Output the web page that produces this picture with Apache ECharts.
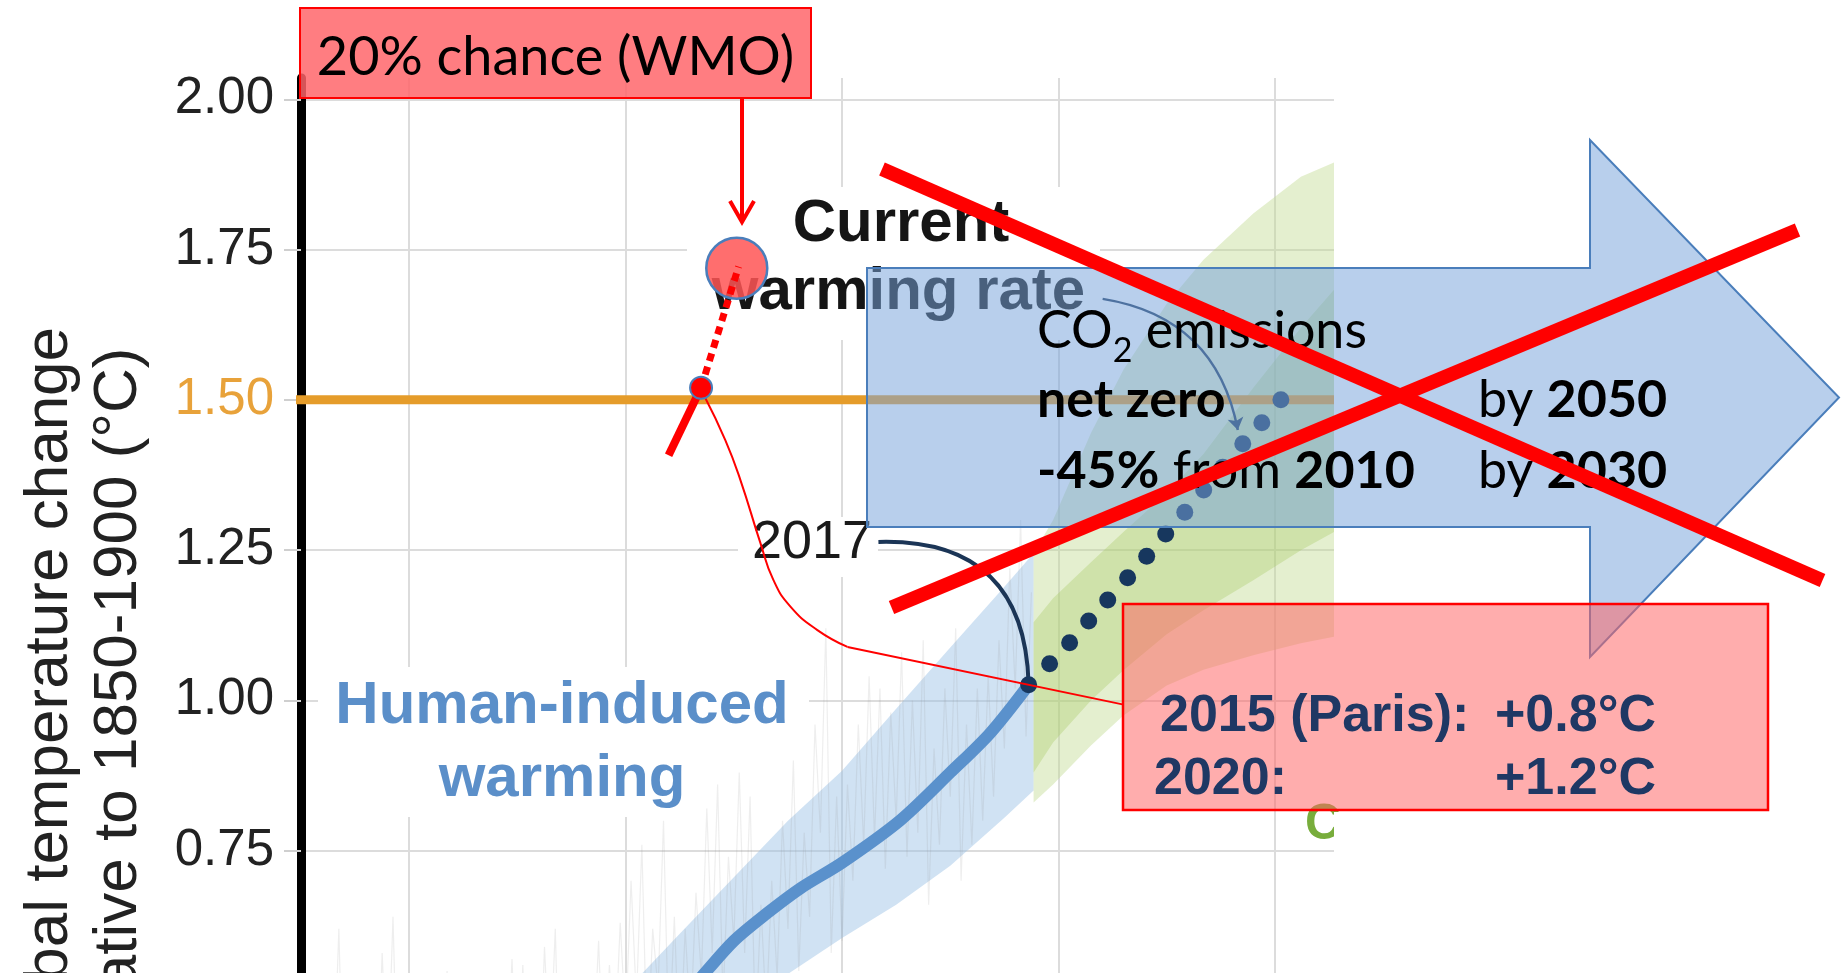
<!DOCTYPE html>
<html>
<head>
<meta charset="utf-8">
<script src="https://cdn.jsdelivr.net/npm/echarts@6/dist/echarts.min.js"></script>
<style>
html,body{margin:0;padding:0;background:#ffffff;}
#chart{width:1847px;height:973px;}
</style>
</head>
<body>
<div id="chart"></div>
<script>
// ---------------- DATA ----------------
const limitValue = 1.5;

// Human-induced warming (central estimate), year -> °C
const humanYears  = [1980, 1985, 1987, 1990, 1993, 1996.2, 2000, 2005.4, 2010, 2013.7, 2017.24];
const humanValues = [0.42, 0.50, 0.540, 0.600, 0.645, 0.688, 0.730, 0.801, 0.880, 0.946, 1.026];

// Likely range of human-induced warming
const humanBandYears = [1975, 1980, 1985, 1990, 1995, 2000, 2005, 2010, 2015, 2017.7];
const humanBandUpper = [0.42, 0.517, 0.612, 0.706, 0.800, 0.883, 0.986, 1.088, 1.189, 1.245];
const humanBandLower = [0.20, 0.30, 0.37, 0.45, 0.545, 0.605, 0.660, 0.725, 0.805, 0.850];

// Projected pathway plume (outer and inner ranges)
const pathwayYears      = [2017.7, 2019.5, 2023, 2026, 2030, 2033.4, 2038, 2042.4, 2045.46];
const pathwayOuterUpper = [1.245, 1.30, 1.445, 1.55, 1.66, 1.733, 1.81, 1.871, 1.895];
const pathwayOuterLower = [0.83, 0.86, 0.925, 0.975, 1.025, 1.051, 1.075, 1.095, 1.106];
const pathwayInnerUpper = [1.13, 1.17, 1.23, 1.28, 1.345, 1.41, 1.52, 1.62, 1.683];
const pathwayInnerLower = [0.88, 0.93, 1.00, 1.05, 1.11, 1.15, 1.20, 1.25, 1.28];

// Current warming rate (dotted projection)
const rateYears  = [2017.24, 2019.18, 2021.03, 2022.79, 2024.55, 2026.39, 2028.15, 2029.91, 2031.67, 2033.42, 2035.18, 2037.03, 2038.79, 2040.55];
const rateValues = [1.026, 1.061, 1.096, 1.132, 1.167, 1.204, 1.240, 1.277, 1.313, 1.350, 1.388, 1.427, 1.462, 1.500];

// Observed temperature (faint background trace), half-year steps from 1950
const observedStart = 1950;
const observedStep = 0.5;
const observedValues = [
  0.22,0.35, 0.28,0.44, 0.30,0.47, 0.36,0.62, 0.25,0.40, 0.20,0.38, 0.18,0.33, 0.32,0.58, 0.36,0.64, 0.30,0.52,
  0.28,0.45, 0.33,0.50, 0.30,0.48, 0.32,0.55, 0.18,0.36, 0.22,0.40, 0.28,0.47, 0.30,0.50, 0.26,0.46, 0.36,0.57,
  0.33,0.56, 0.25,0.45, 0.32,0.59, 0.40,0.62, 0.27,0.44, 0.30,0.49, 0.24,0.43, 0.40,0.60, 0.36,0.56, 0.42,0.63,
  0.46,0.70, 0.50,0.76, 0.40,0.62, 0.52,0.80, 0.42,0.64, 0.40,0.62, 0.46,0.68, 0.54,0.82, 0.58,0.86, 0.50,0.74,
  0.60,0.88, 0.58,0.84, 0.44,0.66, 0.48,0.70, 0.54,0.80, 0.62,0.90, 0.55,0.78, 0.64,0.96, 0.78,1.12, 0.58,0.84,
  0.60,0.86, 0.70,0.96, 0.76,1.04, 0.77,1.02, 0.72,0.98, 0.80,1.08, 0.74,1.00, 0.78,1.10, 0.66,0.92, 0.76,1.02,
  0.84,1.12, 0.70,0.96, 0.76,1.02, 0.80,1.04, 0.84,1.10, 0.92,1.22, 1.02,1.30, 0.94,1.18
];

// Annotation anchors in data space [year, °C]
const arc2017       = [[2003.36, 1.2636], [2017.24, 1.027]];
const rateArrow     = [[2024.08, 1.668], [2036.57, 1.450]];
const chancePoint   = [1990.27, 1.719];
const crossingPoint = [1986.97, 1.520];
const tangentSolid  = [[1983.97, 1.408], [1986.97, 1.520]];
const tangentDotted = [[1986.97, 1.520], [1990.44, 1.7216]];
const leaderCurve   = [[1987.36, 1.503], [1989.21, 1.433], [1990.60, 1.367], [1992.45, 1.262], [1993.65, 1.2005], [1995.23, 1.156], [1997.72, 1.117], [2000.50, 1.089]];
const leaderStraight= [[2000.50, 1.089], [2026.02, 0.993]];
const limitLineX    = [1948.4, 2045.46];

// Texts
const yTitleLines = ['Global temperature change', 'relative to 1850-1900 (°C)'];
const humanLabel = ['Human-induced', 'warming'];
const rateLabel = ['Current', 'warming rate'];
const label2017 = '2017';
const wmoLabel = '20% chance (WMO)';
const parisLines = [['2015 (Paris):', '+0.8°C'], ['2020:', '+1.2°C']];

// ---------------- helpers ----------------
const LS = '"Liberation Sans", Arial, sans-serif';
const LATO = 'Lato, "Open Sans", sans-serif';
const K_LS = 0.3465, K_LATO = 0.33;
const mctx = document.createElement('canvas').getContext('2d');
function tw(text, font) { mctx.font = font; return mctx.measureText(text).width; }
function txt(x, baseline, text, font, size, k, fill, align, z) {
  return { type: 'text', x: x, y: baseline - k * size, z: z, silent: true,
    style: { text: text, font: font, fill: fill, align: align || 'left', verticalAlign: 'middle' } };
}
function run(x, baseline, parts, size, family, k, fill, z) {
  const out = []; let cx = x;
  parts.forEach(p => {
    const font = (p.b ? 'bold ' : '') + size + 'px ' + family;
    out.push(txt(cx, baseline, p.t, font, size, k, fill, 'left', z));
    cx += tw(p.t, font);
  });
  return out;
}
function bandSeries(years, upper, lower, fill) {
  return {
    type: 'custom', silent: true, z: 2,
    data: years.map((y, i) => [y, upper[i]]),
    renderItem: function (params, api) {
      if (params.dataIndex !== 0) return null;
      const pts = [];
      for (let i = 0; i < years.length; i++) pts.push(api.coord([years[i], upper[i]]));
      for (let i = years.length - 1; i >= 0; i--) pts.push(api.coord([years[i], lower[i]]));
      return { type: 'polygon', shape: { points: pts }, style: { fill: fill } };
    }
  };
}

// ---------------- graphic overlay ----------------
const g = [];
// y axis title (rotated, partly cut by the bottom edge as in the source)
g.push({ type: 'text', x: 50, y: 702.6, rotation: Math.PI / 2, z: 1, silent: true,
  style: { text: yTitleLines[0], font: '62px ' + LS, fill: '#222', align: 'center', verticalAlign: 'middle' } });
g.push({ type: 'text', x: 119, y: 702.8, rotation: Math.PI / 2, z: 1, silent: true,
  style: { text: yTitleLines[1], font: '62px ' + LS, fill: '#222', align: 'center', verticalAlign: 'middle' } });

// in-plot labels with white backgrounds (original figure)
g.push({ type: 'rect', z: 1, silent: true, shape: { x: 318, y: 667, width: 491, height: 150 }, style: { fill: '#fff' } });
g.push(txt(562, 727, humanLabel[0], 'bold 60px ' + LS, 60, K_LS, '#5B8FC9', 'center', 1.5));
g.push(txt(562, 800, humanLabel[1], 'bold 60px ' + LS, 60, K_LS, '#5B8FC9', 'center', 1.5));

g.push({ type: 'rect', z: 1, silent: true, shape: { x: 687, y: 187, width: 413, height: 153 }, style: { fill: '#fff' } });
g.push(txt(901, 245, rateLabel[0], 'bold 60px ' + LS, 60, K_LS, '#151515', 'center', 1.5));
g.push(txt(898.5, 313, rateLabel[1], 'bold 60px ' + LS, 60, K_LS, '#151515', 'center', 1.5));

g.push({ type: 'rect', z: 1, silent: true, shape: { x: 738, y: 517, width: 140, height: 60 }, style: { fill: '#fff' } });
g.push(txt(752, 562, label2017, '54px ' + LS, 54, K_LS, '#1a1a1a', 'left', 1.5));

// cut-off green letter of the original figure
g.push(txt(1305, 843, 'C', 'bold 50px ' + LS, 50, K_LS, '#78AD3C', 'left', 4));
g.push({ type: 'rect', z: 5, silent: true, shape: { x: 1334, y: 812, width: 90, height: 90 }, style: { fill: '#fff' } });

// big blue block arrow
g.push({ type: 'polygon', z: 10, silent: true,
  shape: { points: [[867, 268], [1590, 268], [1590, 140], [1839, 397.5], [1590, 657], [1590, 527], [867, 527]] },
  style: { fill: 'rgba(120,165,220,0.53)', stroke: '#4A7EBB', lineWidth: 2 } });
// arrow texts
(function () {
  const f = '52px ' + LATO;
  const wCO = tw('CO', f);
  g.push(txt(1037, 348, 'CO', f, 52, K_LATO, '#000', 'left', 11));
  g.push(txt(1037 + wCO, 362, '2', '34px ' + LATO, 34, K_LATO, '#000', 'left', 11));
  const w2 = tw('2', '34px ' + LATO);
  g.push(txt(1037 + wCO + w2, 348, ' emissions', f, 52, K_LATO, '#000', 'left', 11));
})();
run(1037, 417, [{ t: 'net zero', b: true }], 52, LATO, K_LATO, '#000', 11).forEach(e => g.push(e));
run(1478, 417, [{ t: 'by ' }, { t: '2050', b: true }], 52, LATO, K_LATO, '#000', 11).forEach(e => g.push(e));
run(1037, 488, [{ t: '-45%', b: true }, { t: ' from ' }, { t: '2010', b: true }], 52, LATO, K_LATO, '#000', 11).forEach(e => g.push(e));
run(1478, 488, [{ t: 'by ' }, { t: '2030', b: true }], 52, LATO, K_LATO, '#000', 11).forEach(e => g.push(e));

// pink Paris box
g.push({ type: 'rect', z: 12, silent: true, shape: { x: 1123, y: 604, width: 645, height: 206 },
  style: { fill: 'rgba(255,100,100,0.53)', stroke: '#FF0000', lineWidth: 2.5 } });
g.push(txt(1160, 735, parisLines[0][0], 'bold 52px ' + LS, 52, K_LS, '#1F3864', 'left', 13));
g.push(txt(1495, 735, parisLines[0][1], 'bold 52px ' + LS, 52, K_LS, '#1F3864', 'left', 13));
g.push(txt(1154, 798, parisLines[1][0], 'bold 52px ' + LS, 52, K_LS, '#1F3864', 'left', 13));
g.push(txt(1495, 798, parisLines[1][1], 'bold 52px ' + LS, 52, K_LS, '#1F3864', 'left', 13));

// top WMO box + arrow
g.push({ type: 'rect', z: 12, silent: true, shape: { x: 300, y: 8, width: 511, height: 90 },
  style: { fill: 'rgba(255,100,105,0.84)', stroke: '#FF0000', lineWidth: 2 } });
g.push(txt(555.5, 75, wmoLabel, '54px ' + LATO, 54, K_LATO, '#000', 'center', 13));
g.push({ type: 'line', z: 12, silent: true, shape: { x1: 742, y1: 98, x2: 742, y2: 221 }, style: { stroke: '#FF0000', lineWidth: 4 } });
g.push({ type: 'polyline', z: 12, silent: true, shape: { points: [[730, 201], [742, 222], [754, 201]] }, style: { stroke: '#FF0000', lineWidth: 4, fill: null } });

// red X
g.push({ type: 'line', z: 20, silent: true, shape: { x1: 882, y1: 169, x2: 1822.5, y2: 580.5 }, style: { stroke: '#FF0000', lineWidth: 14 } });
g.push({ type: 'line', z: 20, silent: true, shape: { x1: 891.5, y1: 607.5, x2: 1797.5, y2: 230 }, style: { stroke: '#FF0000', lineWidth: 14 } });

// ---------------- chart ----------------
const chart = echarts.init(document.getElementById('chart'), null, { renderer: 'canvas', width: 1847, height: 973 });
const option = {
  animation: false,
  backgroundColor: '#ffffff',
  grid: { left: 301, right: 513, top: 78, bottom: -28, containLabel: false, outerBoundsMode: 'none' },
  xAxis: {
    type: 'value', min: 1950, max: 2045.46, interval: 10,
    axisLine: { show: false }, axisTick: { show: false }, axisLabel: { show: false },
    splitLine: { show: true, lineStyle: { color: ['rgba(0,0,0,0)', '#dcdcdc'], width: 2 } }
  },
  yAxis: {
    type: 'value', min: 0.5, max: 2.0354, interval: 0.25,
    axisLine: { show: true, onZero: false, lineStyle: { color: '#000', width: 9 } },
    axisTick: { show: true, length: 17, lineStyle: { color: '#cfcfcf', width: 2 } },
    axisLabel: {
      showMaxLabel: false, margin: 27, fontFamily: LS, fontSize: 51,
      color: function (v) { return Math.abs(Number(v) - limitValue) < 1e-6 ? '#E8A23A' : '#222'; },
      formatter: function (v) { return Number(v).toFixed(2); }
    },
    splitLine: { show: true, showMaxLine: false, lineStyle: { color: '#dcdcdc', width: 2 } }
  },
  graphic: g,
  series: [
    { name: 'observed', type: 'line', silent: true, symbol: 'none', z: 2,
      data: observedValues.map((v, i) => [observedStart + i * observedStep, v]),
      lineStyle: { color: 'rgba(150,150,150,0.16)', width: 1.2 } },
    bandSeries(humanBandYears, humanBandUpper, humanBandLower, 'rgba(150,190,228,0.45)'),
    bandSeries(pathwayYears, pathwayOuterUpper, pathwayOuterLower, 'rgba(190,218,140,0.42)'),
    bandSeries(pathwayYears, pathwayInnerUpper, pathwayInnerLower, 'rgba(165,200,95,0.33)'),
    { name: 'human', type: 'line', silent: true, symbol: 'none', smooth: 0.3, z: 3,
      data: humanYears.map((y, i) => [y, humanValues[i]]),
      lineStyle: { color: '#5A91CC', width: 12, cap: 'round' } },
    { name: 'limit', type: 'line', silent: true, symbol: 'none', clip: false, z: 3,
      data: limitLineX.map(x => [x, limitValue]),
      lineStyle: { color: '#E59C2A', width: 9 } },
    { name: 'arc', type: 'lines', coordinateSystem: 'cartesian2d', silent: true, z: 4,
      data: [{ coords: arc2017 }], symbol: ['none', 'none'],
      lineStyle: { color: '#1B3556', width: 4, curveness: 0.5, opacity: 1 } },
    { name: 'rateArrow', type: 'lines', coordinateSystem: 'cartesian2d', silent: true, z: 4,
      data: [{ coords: rateArrow }], symbol: ['none', 'arrow'], symbolSize: 12,
      lineStyle: { color: '#1F3A5F', width: 2.5, curveness: 0.35, opacity: 1 } },
    { name: 'rate', type: 'scatter', silent: true, z: 5, symbolSize: 17,
      data: rateYears.map((y, i) => [y, rateValues[i]]),
      itemStyle: { color: '#17375E', opacity: 1 } },
    { name: 'chance', type: 'scatter', silent: true, z: 6, symbolSize: 61,
      data: [chancePoint],
      itemStyle: { color: 'rgba(255,85,85,0.85)', borderColor: '#4A7EBB', borderWidth: 2.5, opacity: 1 } },
    { name: 'tangentSolid', type: 'line', silent: true, symbol: 'none', z: 7,
      data: tangentSolid, lineStyle: { color: '#FF0000', width: 8 } },
    { name: 'tangentDotted', type: 'line', silent: true, symbol: 'none', z: 7,
      data: tangentDotted, lineStyle: { color: '#FF0000', width: 7, type: [8, 6] } },
    { name: 'leaderCurve', type: 'line', silent: true, symbol: 'none', smooth: true, z: 7,
      data: leaderCurve, lineStyle: { color: '#FF0000', width: 2 } },
    { name: 'leaderStraight', type: 'line', silent: true, symbol: 'none', z: 7,
      data: leaderStraight, lineStyle: { color: '#FF0000', width: 2 } },
    { name: 'crossing', type: 'scatter', silent: true, z: 8, symbolSize: 22,
      data: [crossingPoint],
      itemStyle: { color: '#FF0000', borderColor: '#4A7EBB', borderWidth: 2, opacity: 1 } }
  ]
};
chart.setOption(option);
</script>
</body>
</html>
